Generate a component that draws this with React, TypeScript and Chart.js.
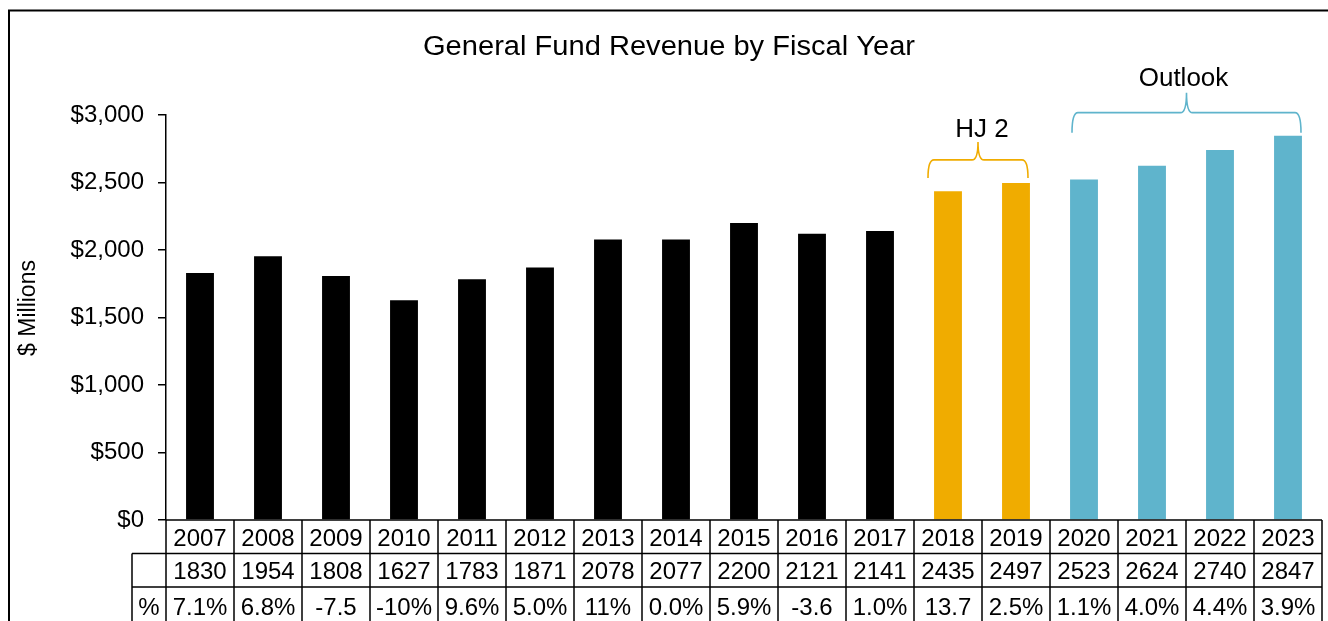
import React, { useEffect, useRef } from "react";
import { Chart, registerables } from "chart.js";

Chart.register(...registerables);

const years = ["2007", "2008", "2009", "2010", "2011", "2012", "2013", "2014", "2015", "2016", "2017", "2018", "2019", "2020", "2021", "2022", "2023"];
const revenue = [1830, 1954, 1808, 1627, 1783, 1871, 2078, 2077, 2200, 2121, 2141, 2435, 2497, 2523, 2624, 2740, 2847];
const pctChange = ["7.1%", "6.8%", "-7.5", "-10%", "9.6%", "5.0%", "11%", "0.0%", "5.9%", "-3.6", "1.0%", "13.7", "2.5%", "1.1%", "4.0%", "4.4%", "3.9%"];
const hj2Years = ["2018", "2019"];
const outlookYears = ["2020", "2021", "2022", "2023"];
const yTicks = [0, 500, 1000, 1500, 2000, 2500, 3000];

const TITLE = "General Fund Revenue by Fiscal Year";
const Y_TITLE = "$ Millions";
const HJ2_LABEL = "HJ 2";
const OUTLOOK_LABEL = "Outlook";
const PCT_LABEL = "%";

const COLOR_HIST = "#000000";
const COLOR_HJ2 = "#F0AC00";
const COLOR_OUTLOOK = "#5FB4CC";
const FONT = '"Liberation Sans", Arial, sans-serif';

const barColors = years.map((y) =>
  hj2Years.includes(y) ? COLOR_HJ2 : outlookYears.includes(y) ? COLOR_OUTLOOK : COLOR_HIST
);

function drawBrace(ctx: CanvasRenderingContext2D, x0: number, x1: number, tipY: number, lineY: number, peakY: number, color: string) {
  const xc = (x0 + x1) / 2;
  const r = 6;
  ctx.save();
  ctx.strokeStyle = color;
  ctx.lineWidth = 1.6;
  ctx.beginPath();
  ctx.moveTo(x0, tipY);
  ctx.quadraticCurveTo(x0, lineY, x0 + r, lineY);
  ctx.lineTo(xc - r, lineY);
  ctx.quadraticCurveTo(xc, lineY, xc, peakY);
  ctx.quadraticCurveTo(xc, lineY, xc + r, lineY);
  ctx.lineTo(x1 - r, lineY);
  ctx.quadraticCurveTo(x1, lineY, x1, tipY);
  ctx.stroke();
  ctx.restore();
}

const overlayPlugin = {
  id: "overlay",
  afterDraw(chart: any) {
    const ctx: CanvasRenderingContext2D = chart.ctx;
    const xs = chart.scales.x;
    const ys = chart.scales.y;
    const area = chart.chartArea;
    const W = chart.width;
    const H = chart.height;

    // outer frame
    ctx.save();
    ctx.strokeStyle = "#000";
    ctx.lineWidth = 2;
    ctx.beginPath();
    ctx.moveTo(9, H + 2);
    ctx.lineTo(9, 10.5);
    ctx.lineTo(W + 2, 10.5);
    ctx.stroke();
    ctx.restore();

    // title
    ctx.save();
    ctx.fillStyle = "#000";
    ctx.font = `27px ${FONT}`;
    ctx.textAlign = "center";
    ctx.textBaseline = "alphabetic";
    const tw = ctx.measureText(TITLE).width;
    ctx.translate(669, 55);
    ctx.scale(492 / tw, 1);
    ctx.fillText(TITLE, 0, 0);
    ctx.restore();

    // y axis title
    ctx.save();
    ctx.fillStyle = "#000";
    ctx.font = `23px ${FONT}`;
    ctx.textAlign = "center";
    ctx.textBaseline = "alphabetic";
    ctx.translate(35, 308);
    ctx.rotate(-Math.PI / 2);
    ctx.fillText(Y_TITLE, 0, 0);
    ctx.restore();

    // data table
    const n = years.length;
    const colW = xs.getPixelForValue(1) - xs.getPixelForValue(0);
    const left = area.left;
    const right = xs.getPixelForValue(n - 1) + colW / 2;
    const labelLeft = left - 34;
    const r0 = ys.getPixelForValue(0);
    const r1 = r0 + 33.5;
    const r2 = r1 + 33.5;
    ctx.save();
    ctx.strokeStyle = "#000";
    ctx.lineWidth = 1.5;
    ctx.beginPath();
    ctx.moveTo(left, r0);
    ctx.lineTo(right, r0);
    ctx.moveTo(labelLeft, r1);
    ctx.lineTo(right, r1);
    ctx.moveTo(labelLeft, r2);
    ctx.lineTo(right, r2);
    ctx.moveTo(labelLeft, r1);
    ctx.lineTo(labelLeft, H + 2);
    for (let i = 0; i <= n; i++) {
      const x = i < n ? xs.getPixelForValue(i) - colW / 2 : right;
      ctx.moveTo(x, r0);
      ctx.lineTo(x, H + 2);
    }
    ctx.stroke();

    ctx.fillStyle = "#000";
    ctx.font = `24px ${FONT}`;
    ctx.textAlign = "center";
    ctx.textBaseline = "alphabetic";
    for (let i = 0; i < n; i++) {
      const cx = xs.getPixelForValue(i);
      ctx.fillText(years[i], cx, r0 + 26);
      ctx.fillText(String(revenue[i]), cx, r1 + 25);
      ctx.fillText(pctChange[i], cx, r2 + 27.5);
    }
    ctx.fillText(PCT_LABEL, (labelLeft + left) / 2, r2 + 27.5);
    ctx.restore();

    // braces and labels
    const iH0 = years.indexOf(hj2Years[0]);
    const iH1 = years.indexOf(hj2Years[hj2Years.length - 1]);
    const hjMax = Math.max(...hj2Years.map((y) => revenue[years.indexOf(y)]));
    const hTip = ys.getPixelForValue(hjMax) - 5;
    const hx0 = xs.getPixelForValue(iH0) - 20;
    const hx1 = xs.getPixelForValue(iH1) + 12;
    drawBrace(ctx, hx0, hx1, hTip, hTip - 18, hTip - 36, COLOR_HJ2);

    const iO0 = years.indexOf(outlookYears[0]);
    const iO1 = years.indexOf(outlookYears[outlookYears.length - 1]);
    const oMax = Math.max(...outlookYears.map((y) => revenue[years.indexOf(y)]));
    const oTip = ys.getPixelForValue(oMax) - 3;
    const ox0 = xs.getPixelForValue(iO0) - 12;
    const ox1 = xs.getPixelForValue(iO1) + 13;
    drawBrace(ctx, ox0, ox1, oTip, oTip - 20, oTip - 40, COLOR_OUTLOOK);

    ctx.save();
    ctx.fillStyle = "#000";
    ctx.font = `26px ${FONT}`;
    ctx.textAlign = "center";
    ctx.textBaseline = "alphabetic";
    ctx.fillText(HJ2_LABEL, (hx0 + hx1) / 2 + 4, hTip - 41);
    ctx.fillText(OUTLOOK_LABEL, (ox0 + ox1) / 2 - 3, oTip - 46.5);
    ctx.restore();
  },
};

export default function App() {
  const ref = useRef<HTMLCanvasElement | null>(null);
  useEffect(() => {
    if (!ref.current) return;
    const chart = new Chart(ref.current, {
      type: "bar",
      data: {
        labels: years,
        datasets: [
          {
            data: revenue,
            backgroundColor: barColors,
            borderWidth: 0,
            barPercentage: 0.41,
            categoryPercentage: 1,
          },
        ],
      },
      options: {
        animation: false,
        responsive: false,
        devicePixelRatio: 1,
        layout: { padding: { left: 0, right: 6, top: 115, bottom: 101 } },
        plugins: {
          legend: { display: false },
          title: { display: false },
          tooltip: { enabled: false },
        },
        scales: {
          x: { display: false, offset: true },
          y: {
            min: yTicks[0],
            max: yTicks[yTicks.length - 1],
            afterFit: (scale: any) => {
              scale.width = 166;
            },
            afterBuildTicks: (scale: any) => {
              scale.ticks = yTicks.map((v) => ({ value: v }));
            },
            border: { display: true, color: "#000", width: 1.5 },
            grid: {
              drawOnChartArea: false,
              drawTicks: true,
              tickLength: 8,
              color: "#000",
              lineWidth: 1.5,
            },
            ticks: {
              padding: 14,
              color: "#000",
              font: { family: FONT, size: 24 },
              callback: (v: any) => "$" + Number(v).toLocaleString("en-US"),
            },
          },
        },
      },
      plugins: [overlayPlugin],
    });
    return () => chart.destroy();
  }, []);
  return (
    <div style={{ position: "absolute", left: 0, top: 0, width: 1328, height: 621, background: "#fff" }}>
      <canvas ref={ref} width={1328} height={621} style={{ display: "block" }} />
    </div>
  );
}
